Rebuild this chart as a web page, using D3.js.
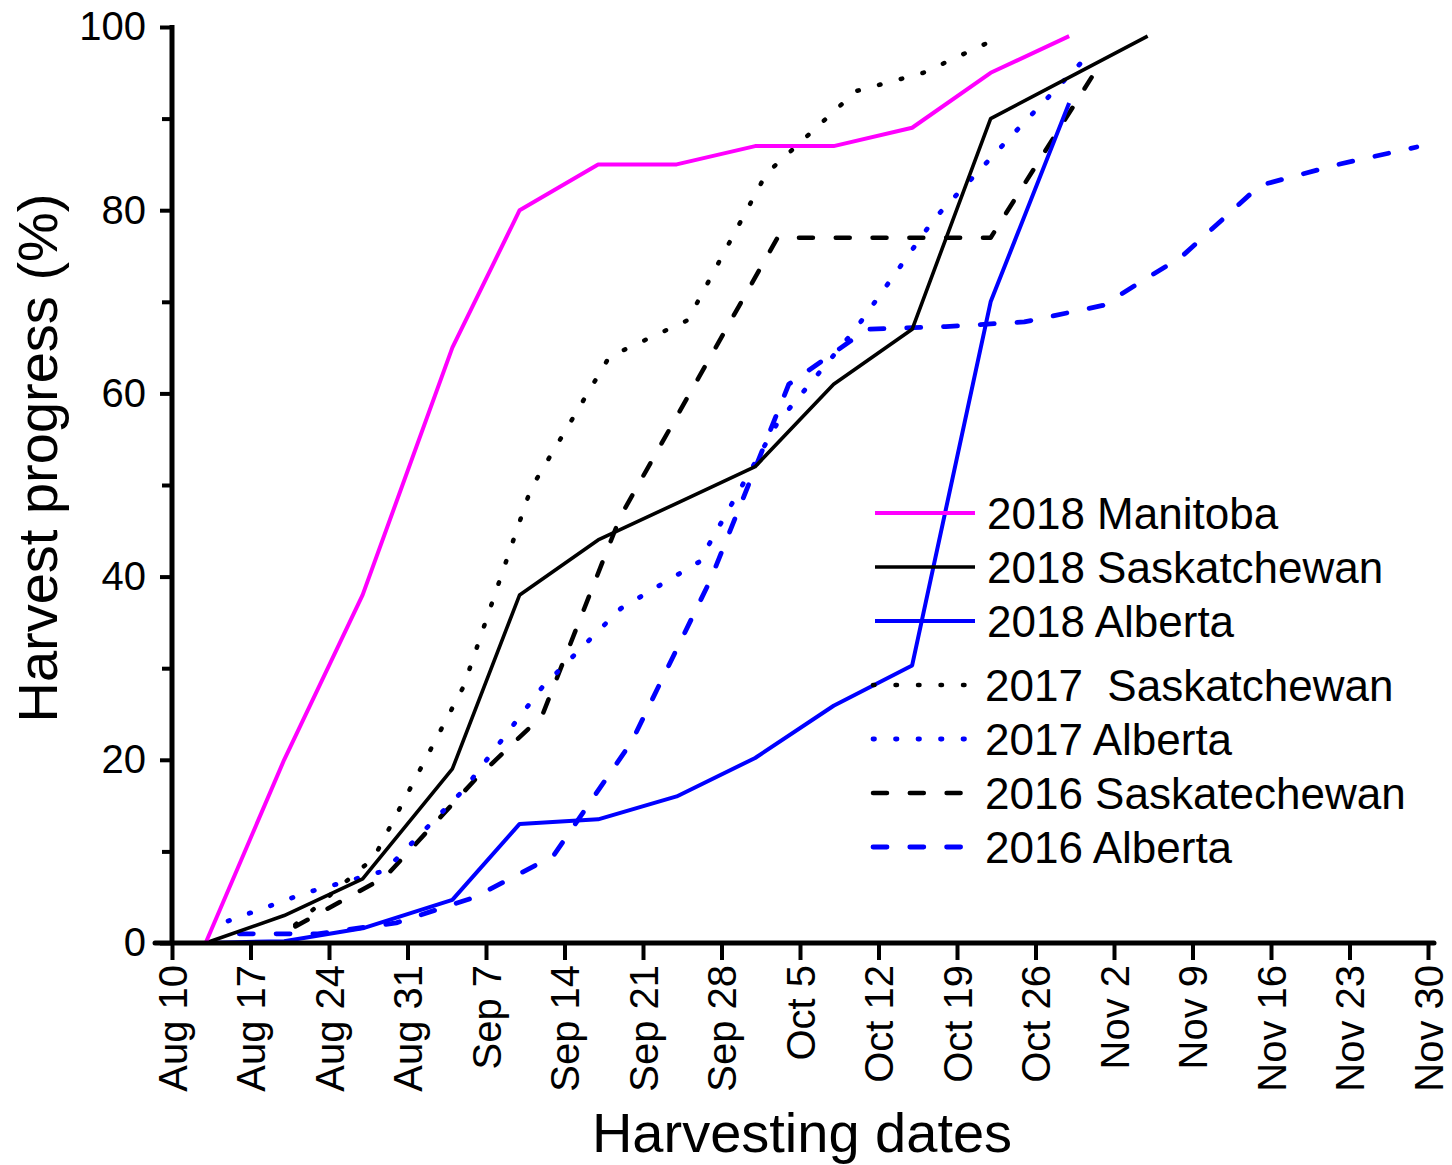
<!DOCTYPE html>
<html>
<head>
<meta charset="utf-8">
<script src="https://cdn.jsdelivr.net/npm/d3@7"></script>
<style>
  html, body { margin: 0; padding: 0; background: #fff; }
  svg { display: block; font-family: "Liberation Sans", Arial, sans-serif; }
</style>
</head>
<body>
<svg id="chart" width="1452" height="1165"></svg>
<script>
// ---------------- DATA ----------------
const xTickLabels = ["Aug 10","Aug 17","Aug 24","Aug 31","Sep 7","Sep 14","Sep 21","Sep 28",
  "Oct 5","Oct 12","Oct 19","Oct 26","Nov 2","Nov 9","Nov 16","Nov 23","Nov 30"];
const yTickValues = [0, 20, 40, 60, 80, 100];
const yMinorTickValues = [10, 30, 50, 70, 90];

const mb2018Dates  = ["Aug 13","Aug 20","Aug 27","Sep 4","Sep 10","Sep 17","Sep 24","Oct 1","Oct 8","Oct 15","Oct 22","Oct 29"];
const mb2018Values = [0, 20, 38, 65, 80, 85, 85, 87, 87, 89, 95, 99];

const sk2018Dates  = ["Aug 13","Aug 20","Aug 27","Sep 4","Sep 10","Sep 17","Sep 24","Oct 1","Oct 8","Oct 15","Oct 22","Oct 29","Nov 5"];
const sk2018Values = [0, 3, 7, 19, 38, 44, 48, 52, 61, 67, 90, 94.5, 99];

const ab2018Dates  = ["Aug 13","Aug 20","Aug 27","Sep 4","Sep 10","Sep 17","Sep 24","Oct 1","Oct 8","Oct 15","Oct 22","Oct 29"];
const ab2018Values = [0, 0.2, 1.6, 4.7, 13, 13.5, 16, 20.2, 25.9, 30.3, 70, 91.7];

const sk2017Dates  = ["Aug 21","Aug 28","Sep 5","Sep 11","Sep 18","Sep 25","Oct 2","Oct 10","Oct 16","Oct 23"];
const sk2017Values = [2, 9.3, 28, 49.6, 64, 68, 84, 93, 95, 99];

const ab2017Dates  = ["Aug 15","Aug 22","Aug 29","Sep 5","Sep 12","Sep 19","Sep 26","Oct 3","Oct 10","Oct 17","Oct 24","Oct 31"];
const ab2017Values = [2.4, 5.5, 7.9, 16.7, 27.9, 36.5, 41.6, 56.8, 67.1, 79.1, 88.3, 97.3];

const sk2016Dates  = ["Aug 21","Aug 29","Sep 6","Sep 12","Sep 19","Sep 26","Oct 3","Oct 22","Oct 31"];
const sk2016Values = [1.8, 7.2, 17.8, 24.8, 46.6, 61.8, 77, 77, 94.5];

const ab2016Dates  = ["Aug 16","Aug 23","Aug 30","Sep 6","Sep 13","Sep 20","Sep 27","Oct 4","Oct 11","Oct 18","Oct 25","Nov 1","Nov 8","Nov 15","Nov 22","Nov 29"];
const ab2016Values = [1, 1, 2.2, 5, 9.5, 22, 39.6, 61, 67, 67.3, 67.8, 69.6, 74.9, 82.7, 85.0, 86.9];

const seriesNames = ["2018 Manitoba","2018 Saskatchewan","2018 Alberta","2017  Saskatchewan","2017 Alberta","2016 Saskatechewan","2016 Alberta"];

// ---------------- SETUP ----------------
const parse = s => d3.utcParse("%b %d %Y")(s + " 2018");
const pairs = (dates, vals) => dates.map((d, i) => ({ date: parse(d), value: vals[i] }));

const styles = {
  solidMag:  { color: "#ff00ff", width: 4,   dash: null,      cap: "butt" },
  solidBlk:  { color: "#000000", width: 3.6, dash: null,      cap: "butt" },
  solidBlu:  { color: "#0000ff", width: 4,   dash: null,      cap: "butt" },
  dotBlk:    { color: "#000000", width: 4.5, dash: "1.5,21",  cap: "round" },
  dotBlu:    { color: "#0000ff", width: 4.8, dash: "1.5,21",  cap: "round" },
  dashBlk:   { color: "#000000", width: 4.5, dash: "14,22.8", cap: "round" },
  dashBlu:   { color: "#0000ff", width: 4.8, dash: "14,22.8", cap: "round" }
};

const series = [
  { name: seriesNames[0], data: pairs(mb2018Dates, mb2018Values), st: styles.solidMag },
  { name: seriesNames[1], data: pairs(sk2018Dates, sk2018Values), st: styles.solidBlk },
  { name: seriesNames[2], data: pairs(ab2018Dates, ab2018Values), st: styles.solidBlu },
  { name: seriesNames[3], data: pairs(sk2017Dates, sk2017Values), st: styles.dotBlk },
  { name: seriesNames[4], data: pairs(ab2017Dates, ab2017Values), st: styles.dotBlu },
  { name: seriesNames[5], data: pairs(sk2016Dates, sk2016Values), st: styles.dashBlk },
  { name: seriesNames[6], data: pairs(ab2016Dates, ab2016Values), st: styles.dashBlu }
];

const svg = d3.select("#chart");
const xTickDates = xTickLabels.map(parse);
const x = d3.scaleUtc().domain([xTickDates[0], xTickDates[xTickDates.length - 1]]).range([172, 1428]);
const y = d3.scaleLinear().domain([0, 100]).range([943, 27]);

// ---------------- LINES ----------------
const line = d3.line().x(d => x(d.date)).y(d => y(d.value));
const drawOrder = [6, 5, 4, 3, 2, 1, 0];
drawOrder.forEach(i => {
  const s = series[i];
  svg.append("path")
    .datum(s.data)
    .attr("fill", "none")
    .attr("stroke", s.st.color)
    .attr("stroke-width", s.st.width)
    .attr("stroke-linecap", s.st.cap)
    .attr("stroke-linejoin", "round")
    .attr("stroke-dasharray", s.st.dash)
    .attr("d", line);
});

// ---------------- AXES ----------------
const font = "'Liberation Sans', Arial, sans-serif";

const yAxis = svg.append("g").attr("transform", "translate(172,0)")
  .call(d3.axisLeft(y).tickValues(yTickValues).tickSize(12).tickSizeOuter(0).tickPadding(14));
yAxis.select(".domain").remove();
yAxis.selectAll(".tick line").attr("stroke-width", 4);
yAxis.selectAll(".tick text").attr("font-size", 40).attr("font-family", font).attr("fill", "#000");

const yMinor = svg.append("g").attr("transform", "translate(172,0)")
  .call(d3.axisLeft(y).tickValues(yMinorTickValues).tickSize(10).tickFormat(""));
yMinor.select(".domain").remove();
yMinor.selectAll(".tick line").attr("stroke-width", 4);

const xAxis = svg.append("g").attr("transform", "translate(0,943)")
  .call(d3.axisBottom(x).tickValues(xTickDates).tickSize(17).tickSizeOuter(0)
    .tickFormat((d, i) => xTickLabels[i]));
xAxis.select(".domain").remove();
xAxis.selectAll(".tick line").attr("stroke-width", 4);
xAxis.selectAll(".tick text")
  .attr("font-size", 40).attr("font-family", font).attr("fill", "#000")
  .attr("x", 0).attr("y", 0).attr("dy", "0.35em")
  .attr("text-anchor", "end")
  .attr("transform", "translate(0,22) rotate(-90)");

// axis lines
svg.append("line").attr("x1", 172).attr("x2", 172).attr("y1", 25).attr("y2", 945)
  .attr("stroke", "#000").attr("stroke-width", 5);
svg.append("line").attr("x1", 155).attr("x2", 1434).attr("y1", 943).attr("y2", 943)
  .attr("stroke", "#000").attr("stroke-width", 5).attr("stroke-linecap", "round");

// titles
svg.append("text").attr("transform", "translate(57,458) rotate(-90)")
  .attr("text-anchor", "middle").attr("font-size", 56).attr("font-family", font)
  .text("Harvest progress (%)");
svg.append("text").attr("x", 802).attr("y", 1152)
  .attr("text-anchor", "middle").attr("font-size", 56).attr("font-family", font)
  .text("Harvesting dates");

// ---------------- LEGEND ----------------
const legendRows = [513, 567, 621, 685, 739, 793, 847];
series.forEach((s, i) => {
  const yy = legendRows[i];
  const solid = s.st.dash === null;
  const x1 = solid ? 875 : 873, x2 = solid ? 975 : 968;
  svg.append("line").attr("x1", x1).attr("x2", x2).attr("y1", yy).attr("y2", yy)
    .attr("stroke", s.st.color).attr("stroke-width", s.st.width)
    .attr("stroke-linecap", s.st.cap)
    .attr("stroke-dasharray", s.st.dash);
  svg.append("text").attr("x", solid ? 987 : 985).attr("y", yy).attr("dy", "0.36em")
    .attr("font-size", 44).attr("font-family", font).attr("fill", "#000")
    .attr("xml:space", "preserve").style("white-space", "pre")
    .text(s.name);
});
</script>
</body>
</html>
